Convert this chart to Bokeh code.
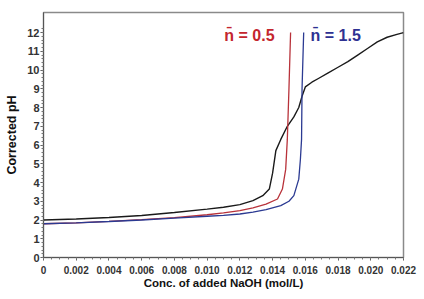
from bokeh.plotting import figure
from bokeh.models import FixedTicker, Label, Range1d
from bokeh.embed import file_html
from bokeh.resources import INLINE

# ---- data ----
x_black = [0, 0.002, 0.004, 0.006, 0.008, 0.010, 0.011, 0.012, 0.0128, 0.0134, 0.0138,
           0.0140, 0.0142, 0.0145, 0.0149, 0.0153, 0.0156, 0.0158, 0.0160, 0.0164, 0.0168,
           0.0174, 0.0180, 0.0186, 0.0192, 0.0198, 0.0204, 0.0210, 0.0216, 0.0220]
y_black = [2.0, 2.05, 2.13, 2.24, 2.4, 2.58, 2.68, 2.82, 3.03, 3.3, 3.65,
           4.5, 5.7, 6.3, 7.0, 7.5, 8.0, 8.6, 9.1, 9.35, 9.55,
           9.85, 10.15, 10.45, 10.8, 11.15, 11.5, 11.75, 11.9, 12.0]

x_red = [0, 0.002, 0.004, 0.006, 0.008, 0.010, 0.011, 0.012, 0.0128, 0.0136, 0.0143,
         0.0146, 0.0148, 0.0149, 0.0150, 0.0151]
y_red = [1.8, 1.85, 1.93, 2.02, 2.13, 2.28, 2.38, 2.5, 2.65, 2.85, 3.12,
         3.65, 4.7, 6.3, 9.0, 12.0]

x_blue = [0, 0.002, 0.004, 0.006, 0.008, 0.010, 0.011, 0.012, 0.0128, 0.0136, 0.0145,
          0.0150, 0.0153, 0.0156, 0.0157, 0.01577, 0.0158, 0.0159]
y_blue = [1.8, 1.85, 1.92, 2.0, 2.1, 2.2, 2.25, 2.32, 2.42, 2.55, 2.77,
          3.0, 3.3, 4.18, 5.24, 6.3, 9.0, 12.0]

x_ticks = [0, 0.002, 0.004, 0.006, 0.008, 0.010, 0.012, 0.014, 0.016, 0.018, 0.020, 0.022]
x_tick_labels = ["0", "0.002", "0.004", "0.006", "0.008", "0.010", "0.012", "0.014",
                 "0.016", "0.018", "0.020", "0.022"]
y_ticks = [0, 1, 2, 3, 4, 5, 6, 7, 8, 9, 10, 11, 12]

label_red = "n\u0304 = 0.5"
label_blue = "n\u0304 = 1.5"

# ---- figure ----
p = figure(width=420, height=291, output_backend="svg", toolbar_location=None,
           x_range=Range1d(0, 0.022), y_range=Range1d(0, 13.07),
           min_border_left=43, min_border_right=17, min_border_top=12, min_border_bottom=32)
p.background_fill_color = "white"
p.border_fill_color = "white"
p.outline_line_color = "#8a8a8a"
p.outline_line_width = 1.5
p.xgrid.visible = False
p.ygrid.visible = False

p.line(x_black, y_black, line_color="#1a1a1a", line_width=1.4)
p.line(x_red, y_red, line_color="#b8323a", line_width=1.3)
p.line(x_blue, y_blue, line_color="#2b3a92", line_width=1.3)

minor_x = [i * 0.0005 for i in range(0, 45)]
minor_y = [i * 0.2 for i in range(0, 62)]
p.xaxis.ticker = FixedTicker(ticks=x_ticks, minor_ticks=minor_x)
p.yaxis.ticker = FixedTicker(ticks=y_ticks, minor_ticks=minor_y)
p.xaxis.major_label_overrides = {t: s for t, s in zip(x_ticks, x_tick_labels)}

for ax in (p.xaxis[0], p.yaxis[0]):
    ax.axis_line_color = "#555555"
    ax.major_tick_line_color = "#555555"
    ax.minor_tick_line_color = "#777777"
    ax.major_tick_in = 0
    ax.major_tick_out = 3
    ax.minor_tick_in = 0
    ax.minor_tick_out = 2
    ax.major_label_text_font = "Liberation Sans"
    ax.major_label_text_font_style = "bold"
    ax.major_label_text_color = "#333333"
    ax.axis_label_text_font = "Liberation Sans"
    ax.axis_label_text_font_style = "bold"
    ax.axis_label_text_color = "#111111"

p.xaxis.major_label_text_font_size = "10px"
p.yaxis.major_label_text_font_size = "11px"
p.xaxis.axis_label = "Conc. of added NaOH (mol/L)"
p.yaxis.axis_label = "Corrected pH"
p.xaxis.axis_label_text_font_size = "11.5px"
p.yaxis.axis_label_text_font_size = "12.5px"
p.xaxis.major_label_standoff = 5
p.xaxis.axis_label_standoff = 0
p.yaxis.major_label_standoff = 1
p.yaxis.axis_label_standoff = 5

p.add_layout(Label(x=0.01105, y=11.85, text=label_red, text_color="#c4262e",
                   text_font="Liberation Sans", text_font_style="bold",
                   text_font_size="16px", text_baseline="middle"))
p.add_layout(Label(x=0.01632, y=11.85, text=label_blue, text_color="#2e3192",
                   text_font="Liberation Sans", text_font_style="bold",
                   text_font_size="16px", text_baseline="middle"))

open("out.html", "w").write(file_html(p, INLINE))
